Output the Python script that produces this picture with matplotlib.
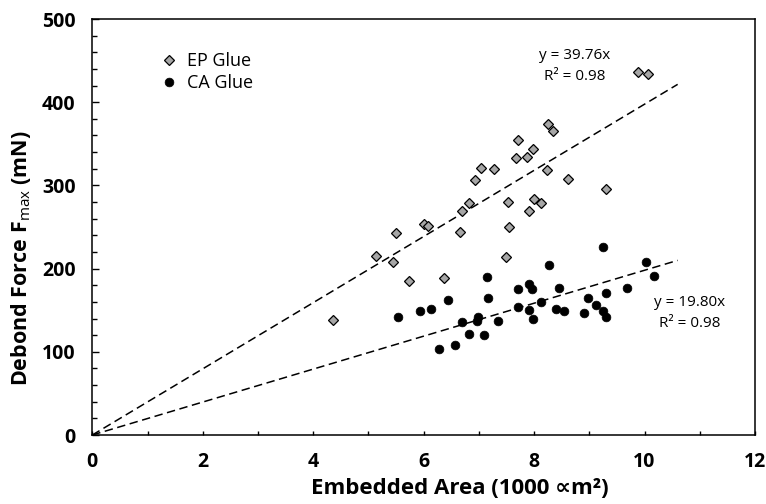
import matplotlib
matplotlib.use("Agg")
import matplotlib.pyplot as plt
import numpy as np
from matplotlib.ticker import MultipleLocator

# ---- data ----
ep_x = [9.89, 10.06, 8.26, 8.34, 7.71, 7.98, 7.87, 7.67, 7.04, 7.28, 8.24, 6.93,
        8.62, 9.30, 7.52, 7.99, 8.12, 6.83, 6.69, 7.90, 6.01, 6.08, 5.50, 6.65,
        7.55, 5.14, 5.44, 5.73, 6.37, 7.50, 4.36]
ep_y = [436.7, 433.9, 373.8, 365.4, 354.6, 343.4, 334.5, 332.6, 321.3, 319.4, 318.2, 306.5,
        307.7, 296.0, 279.7, 283.7, 278.8, 279.2, 269.2, 269.2, 253.6, 251.6, 242.8, 244.0,
        250.0, 215.1, 208.3, 184.7, 188.3, 214.3, 138.2]

ca_x = [9.24, 8.27, 10.03, 10.18, 7.14, 7.70, 7.90, 7.96, 8.45, 9.68, 9.31, 8.98,
        7.17, 6.44, 8.13, 9.12, 7.70, 7.90, 8.40, 8.54, 9.25, 8.90, 9.31, 5.93,
        6.13, 5.53, 6.70, 6.98, 6.97, 7.34, 7.98, 6.83, 7.10, 6.56, 6.28]
ca_y = [226.3, 204.3, 207.9, 191.1, 190.3, 175.9, 181.5, 175.5, 177.1, 177.1, 170.7, 164.3,
        164.3, 161.9, 159.5, 155.9, 154.2, 150.2, 151.4, 148.7, 149.4, 146.3, 142.2, 149.0,
        151.4, 141.5, 135.8, 141.5, 137.0, 137.0, 139.0, 121.0, 120.6, 108.2, 103.0]

ep_slope = 39.76
ca_slope = 19.80
fit_x = [0.0, 10.6]

plt.rcParams['font.family'] = ['Open Sans', 'DejaVu Sans']
plt.rcParams['mathtext.fontset'] = 'custom'
plt.rcParams['mathtext.rm'] = 'Open Sans'
plt.rcParams['mathtext.bf'] = 'Open Sans:bold'

fig = plt.figure(figsize=(7.66, 5.04), dpi=100)
ax = fig.add_axes([0.1205, 0.1369, 0.8651, 0.8254])

ax.plot(fit_x, [ep_slope * v for v in fit_x], color='black', lw=1.1, ls=(0, (5.5, 3)))
ax.plot(fit_x, [ca_slope * v for v in fit_x], color='black', lw=1.1, ls=(0, (5.5, 3)))

ax.plot(ep_x, ep_y, ls='none', marker='D', ms=5.2, mfc='#a6a6a6', mec='black',
        mew=0.9, label='EP Glue')
ax.plot(ca_x, ca_y, ls='none', marker='o', ms=6.3, mfc='black', mec='black',
        mew=0.5, label='CA Glue')

ax.set_xlim(0, 12)
ax.set_ylim(0, 500)
ax.xaxis.set_major_locator(MultipleLocator(2))
ax.xaxis.set_minor_locator(MultipleLocator(1))
ax.yaxis.set_major_locator(MultipleLocator(100))
ax.yaxis.set_minor_locator(MultipleLocator(20))

ax.tick_params(axis='both', which='both', direction='in', width=1.0, colors='black')
ax.tick_params(axis='x', which='both', length=3.2, pad=12)
ax.tick_params(axis='y', which='major', length=5, pad=12)
ax.tick_params(axis='y', which='minor', length=3.6)
for lab in ax.get_xticklabels() + ax.get_yticklabels():
    lab.set_fontweight('bold')
    lab.set_fontsize(14)

for s in ax.spines.values():
    s.set_linewidth(1.1)

ax.set_xlabel('Embedded Area (1000 \u221dm\u00b2)', fontsize=16, fontweight='bold')
ax.set_ylabel(r'Debond Force F$_{\mathrm{max}}$ (mN)', fontsize=15.5, fontweight='bold')
ax.xaxis.set_label_coords(0.555, -0.103)
ax.yaxis.set_label_coords(-0.09, 0.425)

ax.text(8.74, 456.7, 'y = 39.76x', ha='center', va='center', fontsize=11)
ax.text(8.74, 430.7, 'R\u00b2 = 0.98', ha='center', va='center', fontsize=11)
ax.text(10.82, 159.0, 'y = 19.80x', ha='center', va='center', fontsize=11)
ax.text(10.82, 134.0, 'R\u00b2 = 0.98', ha='center', va='center', fontsize=11)

leg = ax.legend(loc='upper left', bbox_to_anchor=(0.105, 0.92), frameon=False,
                fontsize=13, handlelength=0.8, handletextpad=0.6, labelspacing=0.2,
                borderaxespad=0, borderpad=0)

fig.savefig('out.png', dpi=100)
